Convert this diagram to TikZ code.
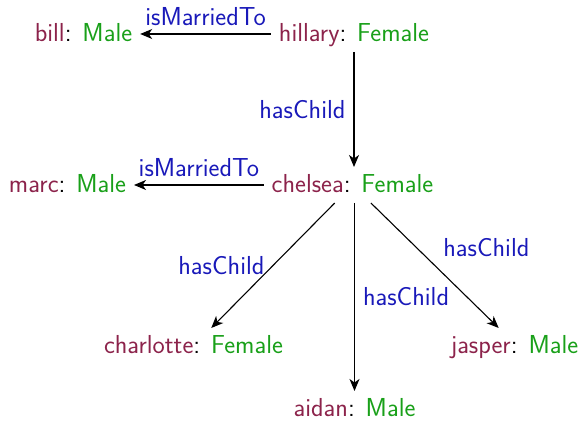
\documentclass[tikz,border=0pt]{standalone}
\usepackage{fontspec}
\usetikzlibrary{arrows.meta}
\definecolor{entc}{RGB}{140,35,75}
\definecolor{typc}{RGB}{25,160,25}
\definecolor{relc}{RGB}{25,25,185}
\newcommand\entlbl[2]{\textcolor{entc}{#1}:\hspace{0.42em}\textcolor{typc}{#2}}
\tikzset{
  ent/.style={anchor=base, inner xsep=8pt, inner ysep=5pt, outer sep=0pt,
    text height=21pt, text depth=5pt, font=\sffamily\fontsize{26}{30}\selectfont},
  rel/.style={-{Stealth[length=12pt,width=10pt,inset=3.5pt]}, line width=1.1pt, black},
  rlab/.style={font=\sffamily\fontsize{26}{30}\selectfont, text=relc, inner sep=4pt}
}
\begin{document}
\begin{tikzpicture}[x=1pt,y=1pt]
\useasboundingbox (0,0) rectangle (579,422);
\node[ent] (bill) at (83.5,380) {\entlbl{bill}{Male}};
\node[ent] (hillary) at (354,380) {\entlbl{hillary}{Female}};
\node[ent] (marc) at (67.5,229) {\entlbl{marc}{Male}};
\node[ent] (chelsea) at (352.5,229) {\entlbl{chelsea}{Female}};
\node[ent] (charlotte) at (193.5,68) {\entlbl{charlotte}{Female}};
\node[ent, text depth=0pt] (jasper) at (514.5,68) {\entlbl{jasper}{Male}};
\node[ent, text depth=0pt] (aidan) at (354.5,5) {\entlbl{aidan}{Male}};

\draw[rel] (hillary.west) -- node[rlab, above=4pt] {isMarriedTo} (bill.east);
\draw[rel] (chelsea.west) -- node[rlab, above=4pt] {isMarriedTo} (marc.east);
\draw[rel] (hillary.south) -- node[rlab, left=4pt] {hasChild} (hillary.south |- chelsea.north);
\draw[rel] (chelsea) -- node[rlab, left=4pt] {hasChild} (charlotte);
\draw[rel] (aidan.north |- chelsea.south) -- node[rlab, right=4pt] {hasChild} (aidan.north);
\draw[rel] (chelsea) -- node[rlab, above right=4pt] {hasChild} (jasper);
\end{tikzpicture}
\end{document}
